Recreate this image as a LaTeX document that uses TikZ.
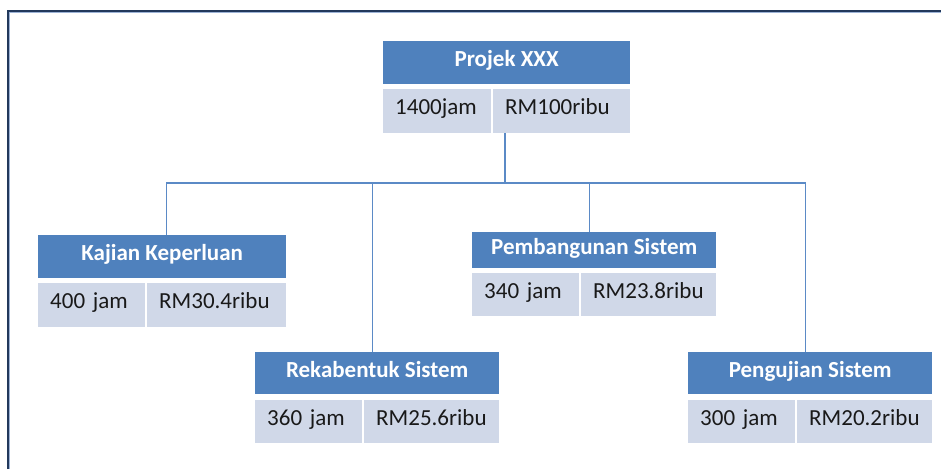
\documentclass[tikz,border=0pt]{standalone}
\usepackage{fontspec}
\setmainfont{Carlito}
\definecolor{headblue}{HTML}{4F81BD}
\definecolor{cellblue}{HTML}{D0D8E8}
\definecolor{linkblue}{HTML}{5B8AC6}
\definecolor{framenavy}{HTML}{22395C}
\definecolor{framelight}{HTML}{9DB3D6}
\begin{document}
\begin{tikzpicture}[x=1pt,y=-1pt,
  headbox/.style={fill=headblue, text=white, anchor=north west, inner sep=0pt,
    font=\bfseries\fontsize{23}{25}\selectfont, text height=0.84em, text depth=0em},
  cellbox/.style={fill=cellblue, text=black!90, anchor=north west, inner xsep=12pt, inner ysep=0pt,
    align=left, font=\fontsize{23}{25}\selectfont, text height=0.72em, text depth=0em},
  link/.style={draw=linkblue, line width=1.4pt}]
\useasboundingbox (0,0) rectangle (941,469);

% outer frame (only top and left edges lie inside the page)
\draw[framelight, line width=1pt] (9.9,469) -- (9.9,12.6) -- (941,12.6);
\draw[framenavy, line width=2.3pt] (7.9,469) -- (7.9,11) -- (941,11);

% top-level project
\node[headbox, minimum width=247pt, minimum height=43pt] (p-head) at (383,41) {Projek XXX};
\node[cellbox, minimum width=108pt, text width=84pt, minimum height=44pt] (p-time) at (383,89) {1400jam};
\node[cellbox, minimum width=137pt, text width=113pt, minimum height=44pt] (p-cost) at (493,89) {RM100ribu};

% phase: requirements study
\node[headbox, minimum width=248pt, minimum height=43pt] (k-head) at (38,235) {Kajian Keperluan};
\node[cellbox, minimum width=107pt, text width=83pt, minimum height=44pt] (k-time) at (38,283) {400 jam};
\node[cellbox, minimum width=139pt, text width=115pt, minimum height=44pt] (k-cost) at (147,283) {RM30.4ribu};

% phase: system design
\node[headbox, minimum width=244pt, minimum height=42pt] (r-head) at (255,352) {Rekabentuk Sistem};
\node[cellbox, minimum width=107pt, text width=83pt, minimum height=43pt] (r-time) at (255,400) {360 jam};
\node[cellbox, minimum width=135pt, text width=111pt, minimum height=43pt] (r-cost) at (364,400) {RM25.6ribu};

% phase: system development
\node[headbox, minimum width=244pt, minimum height=36pt] (b-head) at (472,232) {Pembangunan Sistem};
\node[cellbox, minimum width=107pt, text width=83pt, minimum height=43pt] (b-time) at (472,273) {340 jam};
\node[cellbox, minimum width=135pt, text width=111pt, minimum height=43pt] (b-cost) at (581,273) {RM23.8ribu};

% phase: system testing
\node[headbox, minimum width=244pt, minimum height=42pt] (u-head) at (688,352) {Pengujian Sistem};
\node[cellbox, minimum width=107pt, text width=83pt, minimum height=43pt] (u-time) at (688,400) {300 jam};
\node[cellbox, minimum width=135pt, text width=111pt, minimum height=43pt] (u-cost) at (797,400) {RM20.2ribu};

% connectors
\coordinate (bus) at (505,183);
\draw[link] (p-cost.south -| bus) -- (bus);
\draw[link] ([xshift=4pt]k-head.north) |- (bus) -| ([xshift=-5pt]u-head.north);
\draw[link] ([xshift=-5pt]r-head.north) -- ([xshift=-5pt]r-head.north |- bus);
\draw[link] ([xshift=-5pt]b-head.north) -- ([xshift=-5pt]b-head.north |- bus);
\end{tikzpicture}
\end{document}
